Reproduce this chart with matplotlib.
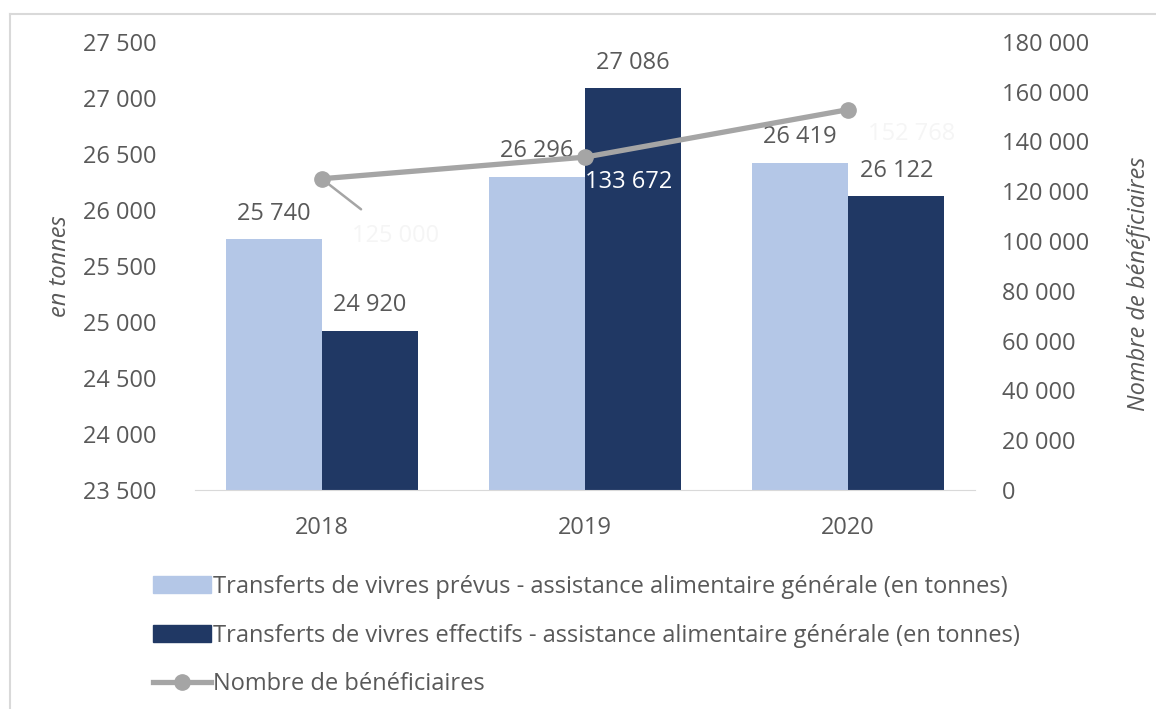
import matplotlib
matplotlib.use("Agg")
import matplotlib.pyplot as plt
from matplotlib.lines import Line2D
from matplotlib.patches import Patch
from matplotlib.ticker import FuncFormatter
import numpy as np

annees = ["2018", "2019", "2020"]
prevus = [25740, 26296, 26419]
effectifs = [24920, 27086, 26122]
beneficiaires = [125000, 133672, 152768]

c_prevus = "#B4C7E7"
c_eff = "#203864"
c_ligne = "#A5A5A5"
c_txt = "#595959"

plt.rcParams["font.family"] = ["Open Sans", "DejaVu Sans"]
fs = 17

def fr(v, pos=None):
    return f"{int(v):,}".replace(",", " ")

fig = plt.figure(figsize=(11.56, 7.09), dpi=100)
ax = fig.add_axes([0.169, 0.309, 0.674, 0.632])
ax2 = ax.twinx()

x = np.arange(len(annees))
w = 0.365
ax.bar(x - w / 2, np.array(prevus) - 23500, w, bottom=23500, color=c_prevus)
ax.bar(x + w / 2, np.array(effectifs) - 23500, w, bottom=23500, color=c_eff)
ax.set_ylim(23500, 27500)
ax.set_xlim(-0.48, 2.48)
ax.set_yticks(np.arange(23500, 27501, 500))
ax.yaxis.set_major_formatter(FuncFormatter(fr))
ax.set_xticks(x)
ax.set_xticklabels(annees)
for s in ["top", "left", "right"]:
    ax.spines[s].set_visible(False)
    ax2.spines[s].set_visible(False)
ax.spines["bottom"].set_color("#D9D9D9")
ax2.spines["bottom"].set_visible(False)
ax.tick_params(length=0, colors=c_txt, labelsize=fs)
ax.tick_params(axis="x", pad=19)
ax.tick_params(axis="y", pad=28)
ax.set_ylabel("en tonnes", style="italic", color=c_txt, fontsize=fs, labelpad=8)

for xi, v in zip(x, prevus):
    ax.text(xi - w / 2, v + 120, fr(v), ha="center", va="bottom", color=c_txt, fontsize=fs)
for xi, v in zip(x, effectifs):
    ax.text(xi + w / 2, v + 120, fr(v), ha="center", va="bottom", color=c_txt, fontsize=fs)

ax2.plot(x, beneficiaires, color=c_ligne, lw=3.8, marker="o", ms=11, zorder=5)
ax2.set_ylim(0, 180000)
ax2.set_yticks(np.arange(0, 180001, 20000))
ax2.yaxis.set_major_formatter(FuncFormatter(fr))
ax2.tick_params(length=0, colors=c_txt, labelsize=fs, pad=20)
ax2.set_ylabel("Nombre de bénéficiaires", style="italic", color=c_txt, fontsize=fs)
ax2.yaxis.set_label_coords(1.196, 0.46)

# labels de la ligne (quasi invisibles sur fond blanc)
ax2.annotate(fr(beneficiaires[0]), xy=(x[0], beneficiaires[0]), xytext=(x[0] + 0.28, 102000),
             ha="center", va="center", color="#F5F5F5", fontsize=fs,
             arrowprops=dict(arrowstyle="-", color=c_ligne, lw=1.8, shrinkA=14, shrinkB=4))
ax2.text(x[1] + 0.165, 123500, fr(beneficiaires[1]), ha="center", va="center", color="white", fontsize=fs)
ax2.text(x[2] + 0.24, 143000, fr(beneficiaires[2]), ha="center", va="center", color="#F5F5F5", fontsize=fs)

handles = [Patch(color=c_prevus), Patch(color=c_eff),
           Line2D([], [], color=c_ligne, lw=3.8, marker="o", ms=11)]
labels = ["Transferts de vivres prévus - assistance alimentaire générale (en tonnes)",
          "Transferts de vivres effectifs - assistance alimentaire générale (en tonnes)",
          "Nombre de bénéficiaires"]
fig.legend(handles, labels, loc="upper left", bbox_to_anchor=(0.122, 0.206), frameon=False,
           fontsize=fs, labelcolor=c_txt, handlelength=2.45, handletextpad=0.1,
           labelspacing=1.05, borderpad=0)

# cadre du graphique
fig.add_artist(Line2D([10 / 1156, 10 / 1156], [0, 1 - 14 / 709], transform=fig.transFigure, color="#D9D9D9", lw=1.5))
fig.add_artist(Line2D([10 / 1156, 1], [1 - 14 / 709, 1 - 14 / 709], transform=fig.transFigure, color="#D9D9D9", lw=1.5))

fig.savefig("out.png", dpi=100)
